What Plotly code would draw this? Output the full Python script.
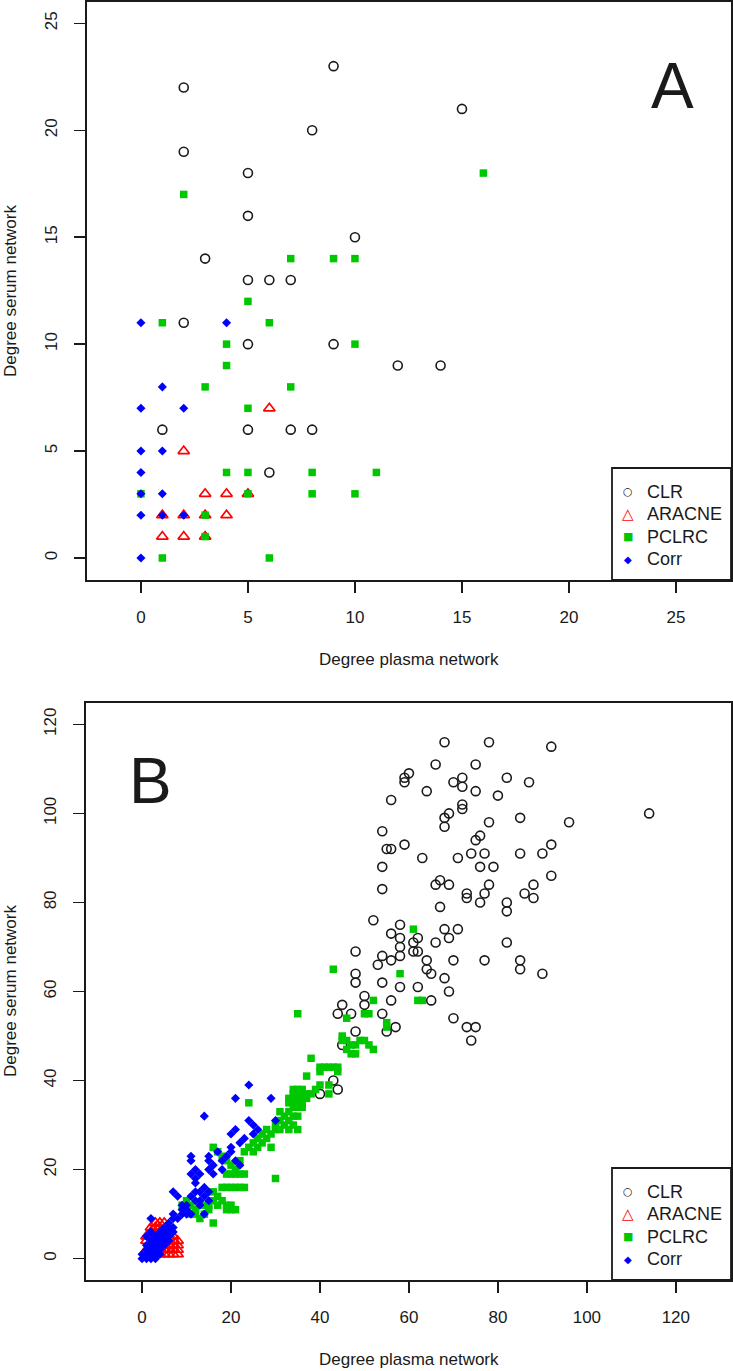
import plotly.graph_objects as go

# ---------------- Panel A data (degree plasma, degree serum) ----------------
clr_a = [(2, 22), (9, 23), (8, 20), (2, 19), (15, 21), (5, 18), (5, 16), (10, 15), (3, 14),
         (5, 13), (6, 13), (7, 13), (2, 11), (5, 10), (9, 10), (12, 9), (14, 9), (1, 6),
         (5, 6), (7, 6), (8, 6), (6, 4)]
aracne_a = [(6, 7), (2, 5), (3, 3), (4, 3), (5, 3), (1, 2), (2, 2), (3, 2), (4, 2),
            (1, 1), (2, 1), (3, 1)]
pclrc_a = [(2, 17), (16, 18), (7, 14), (9, 14), (10, 14), (5, 12), (1, 11), (6, 11), (4, 10),
           (10, 10), (4, 9), (3, 8), (7, 8), (5, 7), (4, 4), (5, 4), (8, 4), (11, 4), (0, 3),
           (5, 3), (8, 3), (10, 3), (3, 2), (3, 1), (1, 0), (6, 0)]
corr_a = [(0, 11), (4, 11), (1, 8), (0, 7), (2, 7), (0, 5), (1, 5), (0, 4), (0, 3), (1, 3),
          (0, 2), (1, 2), (2, 2), (0, 0)]

# ---------------- Panel B data ----------------
clr_b = [(68, 116), (78, 116), (92, 115), (66, 111), (75, 111), (59, 108), (60, 109), (59, 107),
         (70, 107), (72, 108), (72, 106), (64, 105), (75, 105), (82, 108), (87, 107), (56, 103),
         (80, 104), (72, 102), (72, 101), (68, 99), (69, 100), (68, 97), (78, 98), (85, 99),
         (96, 98), (114, 100), (54, 96), (55, 92), (56, 92), (59, 93), (75, 94), (76, 95),
         (63, 90), (71, 90), (74, 91), (77, 91), (85, 91), (90, 91), (92, 93), (76, 88), (79, 88),
         (54, 88), (92, 86), (66, 84), (67, 85), (69, 84), (78, 84), (73, 82), (73, 81), (77, 82),
         (76, 80), (86, 82), (88, 84), (88, 81), (82, 80), (82, 78), (67, 79), (54, 83), (52, 76),
         (58, 75), (56, 73), (58, 72), (58, 70), (58, 68), (61, 71), (62, 72), (61, 69), (62, 69),
         (68, 74), (71, 74), (69, 72), (66, 71), (82, 71), (64, 67), (64, 65), (65, 64), (70, 67),
         (77, 67), (85, 67), (85, 65), (90, 64), (68, 63), (69, 60), (62, 61), (58, 61), (54, 62),
         (56, 58), (65, 58), (54, 55), (70, 54), (57, 52), (55, 51), (73, 52), (75, 52), (74, 49),
         (48, 69), (48, 64), (48, 62), (53, 66), (54, 68), (56, 67), (50, 59), (50, 57), (47, 55),
         (48, 51), (45, 57), (44, 55), (45, 48), (43, 40), (44, 38), (40, 37), (26, 28)]
aracne_b = [(1, 2), (2, 1), (2, 3), (3, 5), (3, 8), (4, 6), (4, 7), (2, 6), (5, 4), (6, 3),
            (6, 1), (7, 1), (7, 2), (7, 3), (8, 1), (8, 2), (8, 3), (7, 4), (8, 4), (6, 5),
            (5, 2), (3, 6), (4, 1), (5, 1), (1, 5), (2, 7), (3, 7), (6, 2), (7, 5), (4, 8),
            (5, 8), (1, 4), (2, 5), (3, 3), (6, 6)]
pclrc_b = [(61, 74), (58, 64), (43, 65), (62, 58), (63, 58), (52, 58), (35, 55), (46, 54),
           (50, 55), (51, 55), (55, 53), (55, 52), (45, 50), (46, 49), (47, 48), (48, 48),
           (49, 49), (50, 49), (51, 48), (52, 47), (46, 47), (47, 46), (45, 49), (48, 46),
           (38, 45), (41, 43), (42, 43), (43, 43), (44, 43), (44, 42), (40, 43), (40, 42),
           (37, 41), (40, 39), (42, 39), (42, 37), (33, 35), (34, 38), (35, 38), (36, 38),
           (34, 37), (35, 37), (36, 37), (37, 37), (34, 36), (35, 36), (36, 36), (37, 36),
           (33, 36), (34, 35), (35, 35), (36, 35), (38, 37), (39, 38), (35, 34), (36, 34),
           (34, 34), (33, 33), (35, 32), (34, 32), (31, 33), (32, 32), (33, 31), (32, 30),
           (31, 31), (30, 30), (31, 29), (30, 29), (29, 28), (28, 29), (28, 27), (27, 28),
           (26, 27), (27, 26), (25, 26), (26, 25), (24, 25), (25, 24), (23, 24), (29, 25),
           (35, 29), (34, 30), (33, 29), (24, 35), (30, 18), (16, 25), (17, 24), (18, 23),
           (19, 22), (22, 22), (20, 21), (21, 20), (19, 19), (20, 19), (21, 19), (22, 19),
           (23, 19), (18, 16), (19, 16), (20, 16), (21, 16), (22, 16), (23, 16), (16, 15),
           (17, 14), (18, 13), (16, 13), (17, 12), (19, 12), (20, 12), (19, 11), (20, 11),
           (21, 11), (14, 12), (15, 12), (15, 11), (14, 10), (12, 11), (12, 10), (11, 12),
           (10, 13), (13, 9), (16, 8), (9, 12), (11, 10)]
corr_b = [(24, 39), (21, 36), (29, 36), (14, 32), (30, 31), (24, 31), (25, 30), (21, 29),
          (20, 28), (23, 27), (22, 26), (25, 28), (26, 29), (17, 24), (20, 25), (20, 24),
          (21, 22), (22, 21), (19, 23), (18, 22), (11, 23), (11, 22), (15, 23), (15, 22),
          (16, 21), (18, 20), (15, 20), (12, 20), (11, 19), (13, 19), (16, 19), (12, 18),
          (12, 17), (12, 15), (14, 16), (14, 14), (15, 13), (13, 13), (13, 12), (11, 14),
          (13, 15), (15, 15), (12, 13), (7, 15), (8, 14), (9, 12), (9, 11), (10, 10), (10, 12),
          (10, 11), (11, 10), (14, 10), (7, 10), (7, 9), (8, 9), (9, 10), (6, 8), (7, 7),
          (7, 6), (6, 7), (2, 9), (0, 0), (1, 0), (2, 0), (3, 0), (1, 1), (2, 1), (3, 1),
          (1, 2), (2, 2), (3, 2), (4, 2), (1, 3), (2, 3), (3, 3), (4, 3), (5, 3), (2, 4),
          (3, 4), (4, 4), (5, 4), (6, 4), (3, 5), (4, 5), (5, 5), (6, 5), (2, 6), (4, 6),
          (5, 6), (6, 6), (5, 7), (1, 5), (0, 1), (4, 1)]

series_names = ["CLR", "ARACNE", "PCLRC", "Corr"]
x_title = "Degree plasma network"
y_title = "Degree serum network"
a_ticks = [0, 5, 10, 15, 20, 25]
b_ticks = [0, 20, 40, 60, 80, 100, 120]

W, H = 733, 1371
FONT = "Liberation Sans, Arial, sans-serif"
INK = "#1a1a1a"

styles = {
    "CLR": dict(symbol="circle-open", size=9, color=INK, line=dict(width=1.6, color=INK)),
    "ARACNE": dict(symbol="triangle-up-open", size=10, color="#ff0000", line=dict(width=1.7, color="#ff0000")),
    "PCLRC": dict(symbol="square", size=7.5, color="#00c800", line=dict(width=0)),
    "Corr": dict(symbol="diamond", size=7, color="#0000ff", line=dict(width=0)),
}
# legend glyphs (text symbols) per series
legend_glyphs = {
    "CLR": ("○", 11, INK),
    "ARACNE": ("△", 15, "#ff0000"),
    "PCLRC": ("■", 11, "#00c800"),
    "Corr": ("◆", 10, "#0000ff"),
}


def px_x(p):
    return p / W


def px_y(p):
    return 1 - p / H


fig = go.Figure()

panels = [
    ("x", "y", [clr_a, aracne_a, pclrc_a, corr_a]),
    ("x2", "y2", [clr_b, aracne_b, pclrc_b, corr_b]),
]
for xa, ya, datasets in panels:
    for name, pts in zip(series_names, datasets):
        xs = [p[0] for p in pts]
        ys = [p[1] for p in pts]
        fig.add_trace(go.Scatter(x=xs, y=ys, mode="markers", name=name,
                                 marker=styles[name], xaxis=xa, yaxis=ya,
                                 showlegend=False, cliponaxis=False))

axis_common = dict(showline=True, mirror=True, linecolor=INK, linewidth=1.8,
                   ticks="outside", ticklen=11, tickwidth=1.6, tickcolor=INK,
                   showgrid=False, zeroline=False, tickfont=dict(family=FONT, size=17, color=INK))

fig.update_layout(
    width=W, height=H, autosize=False,
    margin=dict(l=0, r=0, t=0, b=0),
    paper_bgcolor="white", plot_bgcolor="white",
    font=dict(family=FONT, color=INK),
    xaxis=dict(domain=[px_x(87), px_x(731)], range=[-2.52, 27.57], tickvals=a_ticks,
               anchor="y", ticklabelstandoff=10, **axis_common),
    yaxis=dict(domain=[px_y(580), px_y(2)], range=[-1.03, 26.0], tickvals=a_ticks,
               anchor="x", tickangle=-90, ticklabelstandoff=10, **axis_common),
    xaxis2=dict(domain=[px_x(86), px_x(731)], range=[-12.6, 132.4], tickvals=b_ticks,
                anchor="y2", ticklabelstandoff=10, **axis_common),
    yaxis2=dict(domain=[px_y(1280), px_y(703)], range=[-4.8, 124.8], tickvals=b_ticks,
                anchor="x2", tickangle=-90, ticklabelstandoff=10, **axis_common),
    showlegend=False,
)

# ---- custom R-style legends (box + glyph + label) ----
for top in (468, 1168):
    fig.add_shape(type="rect", xref="paper", yref="paper", layer="above",
                  x0=px_x(612), x1=px_x(731), y0=px_y(top + 112), y1=px_y(top),
                  line=dict(color=INK, width=1.8), fillcolor="white")
    for i, name in enumerate(series_names):
        yc = top + 23.5 + 22.6 * i
        glyph, gsize, gcolor = legend_glyphs[name]
        fig.add_annotation(xref="paper", yref="paper", showarrow=False,
                           x=px_x(628), y=px_y(yc), xanchor="center", yanchor="middle",
                           text=glyph, font=dict(family="DejaVu Sans", size=gsize, color=gcolor))
        fig.add_annotation(xref="paper", yref="paper", showarrow=False,
                           x=px_x(645), y=px_y(yc), xanchor="left", yanchor="middle",
                           text=name, font=dict(family=FONT, size=18, color=INK))

annotations = [
    dict(text="A", x=px_x(672), y=px_y(86), font=dict(size=64, family=FONT)),
    dict(text="B", x=px_x(150), y=px_y(781), font=dict(size=64, family=FONT)),
    dict(text=x_title, x=px_x(409), y=px_y(659), font=dict(size=17, family=FONT)),
    dict(text=x_title, x=px_x(409), y=px_y(1359), font=dict(size=17, family=FONT)),
    dict(text=y_title, x=px_x(10), y=px_y(291), textangle=-90, font=dict(size=17, family=FONT)),
    dict(text=y_title, x=px_x(10), y=px_y(991), textangle=-90, font=dict(size=17, family=FONT)),
]
for a in annotations:
    fig.add_annotation(xref="paper", yref="paper", showarrow=False,
                       xanchor="center", yanchor="middle", **a)

fig.write_html("out.html",
               config={"displayModeBar": False, "staticPlot": True},
               post_script="document.body.style.margin='0';document.body.style.overflow='hidden';")
